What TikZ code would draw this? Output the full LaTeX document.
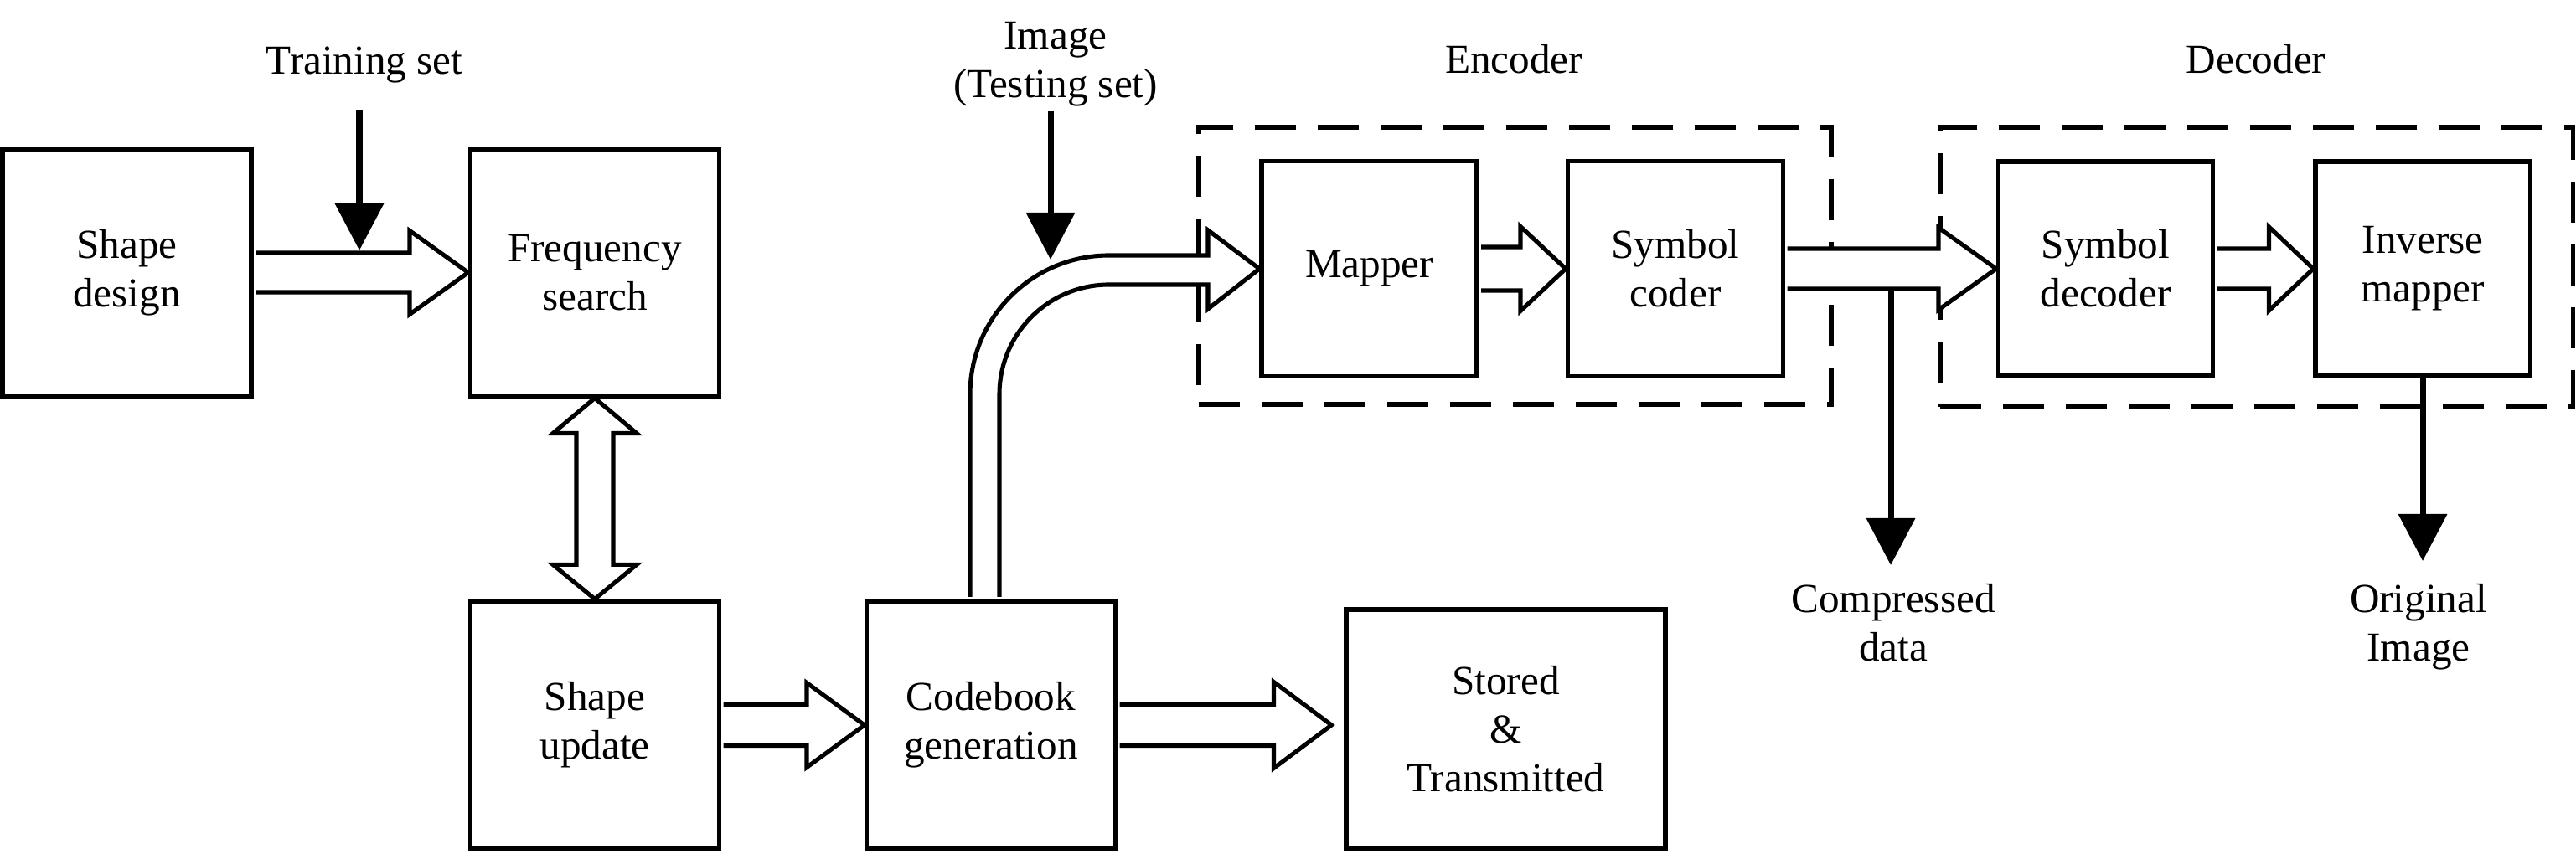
\documentclass[tikz,border=0pt]{standalone}
\usepackage{fontspec}
\setmainfont{Liberation Serif}
\usetikzlibrary{arrows.meta,calc}

\begin{document}
\begin{tikzpicture}[
  box/.style={draw,line width=1.45pt,align=center,font=\fontsize{14}{16.5}\selectfont},
  dashbox/.style={draw,line width=1.45pt,dash pattern=on 0.49cm off 0.26cm},
  hollow/.style={draw,fill=white,line width=1.45pt},
  feed/.style={line width=2pt,-{Triangle[width=0.57cm,length=0.56cm]}},
  lbl/.style={inner sep=0pt,align=center,font=\fontsize{14}{16.5}\selectfont}]
  \useasboundingbox (0,0) rectangle (30.75,10.2);

  % encoder and decoder frames
  \node[dashbox,minimum width=7.55cm,minimum height=3.31cm] (enc) at (18.085,7.025) {};
  \node[dashbox,minimum width=7.55cm,minimum height=3.34cm] (dec) at (26.935,7.01) {};
  \node[lbl,anchor=base] (enclbl) at (18.07,9.32) {Encoder};
  \node[lbl,anchor=base] (declbl) at (26.93,9.32) {Decoder};

  % blocks
  \node[box,minimum width=2.97cm,minimum height=2.95cm] (sd) at (1.515,6.945) {Shape\\design};
  \node[box,minimum width=2.97cm,minimum height=2.95cm] (fs) at (7.10,6.945) {Frequency\\search};
  \node[box,minimum width=2.97cm,minimum height=2.96cm] (su) at (7.10,1.54) {Shape\\update};
  \node[box,minimum width=2.97cm,minimum height=2.96cm] (cb) at (11.83,1.54) {Codebook\\generation};
  \node[box,minimum width=3.81cm,minimum height=2.86cm] (st) at (17.975,1.49) {Stored\\\&\\Transmitted};
  \node[box,minimum width=2.57cm,minimum height=2.57cm] (ma) at (16.345,6.99) {Mapper};
  \node[box,minimum width=2.57cm,minimum height=2.57cm] (sc) at (20.00,6.99) {Symbol\\coder};
  \node[box,minimum width=2.56cm,minimum height=2.56cm] (sdc) at (25.135,6.99) {Symbol\\decoder};
  \node[box,minimum width=2.56cm,minimum height=2.56cm] (im) at (28.92,6.99) {Inverse\\mapper};

  % outside labels
  \node[lbl,anchor=base] (ts) at (4.35,9.31) {Training set};
  \node[lbl,anchor=north] (img) at (12.60,9.94) {Image\\(Testing set)};
  \node[lbl,anchor=north] (cd) at (22.60,3.23) {Compressed\\data};
  \node[lbl,anchor=north] (oi) at (28.87,3.23) {Original\\Image};

  % hollow block arrows
  \foreach \a/\b/\s/\h/\l in {sd/fs/0.235/0.50/0.70, su/cb/0.245/0.505/0.69,
      ma/sc/0.26/0.505/0.54, sc/sdc/0.24/0.49/0.69, sdc/im/0.24/0.50/0.53}
    \draw[hollow] ($(\a.east)+(0.025,\s)$) -- ($(\b.west)+(-\l,\s)$) -- ($(\b.west)+(-\l,\h)$) -- (\b.west)
      -- ($(\b.west)+(-\l,-\h)$) -- ($(\b.west)+(-\l,-\s)$) -- ($(\a.east)+(0.025,-\s)$);

  \coordinate (sttip) at ($(st.west |- cb.east)+(-0.15,0)$);
  \draw[hollow] ($(cb.east)+(0.025,0.245)$) -- ($(sttip)+(-0.69,0.245)$) -- ($(sttip)+(-0.69,0.515)$) -- (sttip)
    -- ($(sttip)+(-0.69,-0.515)$) -- ($(sttip)+(-0.69,-0.245)$) -- ($(cb.east)+(0.025,-0.245)$);

  \draw[hollow] (fs.south) -- ++(0.5,-0.42) -- ++(-0.28,0) -- ($(su.north)+(0.22,0.41)$) -- ++(0.28,0)
    -- (su.north) -- ++(-0.5,0.41) -- ++(0.28,0) -- ($(fs.south)+(-0.22,-0.42)$) -- ++(-0.28,0) -- cycle;

  \draw[hollow] ($(cb.north)+(-0.25,0.025)$) -- (11.58,5.49) arc[start angle=180,end angle=90,radius=1.66]
    -- (14.42,7.15) -- (14.42,7.45) -- (ma.west) -- (14.42,6.51) -- (14.42,6.80) -- (13.24,6.80)
    arc[start angle=90,end angle=180,radius=1.31] -- ($(cb.north)+(0.10,0.025)$);

  % solid feeds
  \coordinate (tsend) at (4.29,7.21);
  \coordinate (imgend) at (12.54,7.10);
  \coordinate (cdstart) at (22.57,6.75);
  \draw[feed] ($(tsend |- ts.south)+(0,-0.31)$) -- (tsend);
  \draw[feed] ($(imgend |- img.south)+(0,-0.04)$) -- (imgend);
  \draw[feed] (cdstart) -- ($(cdstart |- cd.north)+(0,0.22)$);
  \draw[feed] (im.south) -- ($(im.south |- oi.north)+(0,0.27)$);
\end{tikzpicture}
\end{document}
